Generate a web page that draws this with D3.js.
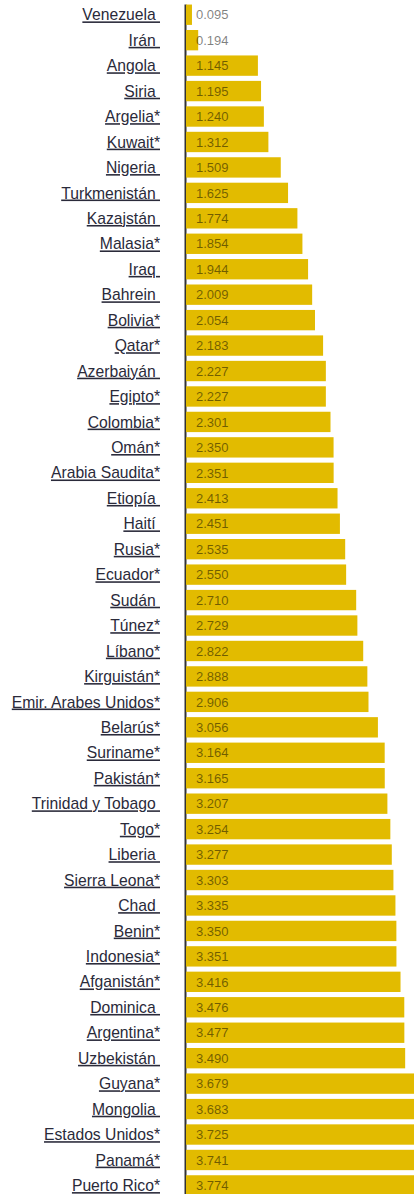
<!DOCTYPE html>
<html>
<head>
<meta charset="utf-8">
<script src="https://cdn.jsdelivr.net/npm/d3@7"></script>
<style>
  body { margin: 0; background: #fff; }
  svg { display: block; }
</style>
</head>
<body>
<div id="chart"></div>
<script>
// countries, top to bottom ("*" marks kept as in the source)
var countries = ["Venezuela", "Irán", "Angola", "Siria", "Argelia*", "Kuwait*", "Nigeria",
  "Turkmenistán", "Kazajstán", "Malasia*", "Iraq", "Bahrein", "Bolivia*", "Qatar*",
  "Azerbaiyán", "Egipto*", "Colombia*", "Omán*", "Arabia Saudita*", "Etiopía", "Haití",
  "Rusia*", "Ecuador*", "Sudán", "Túnez*", "Líbano*", "Kirguistán*", "Emir. Arabes Unidos*",
  "Belarús*", "Suriname*", "Pakistán*", "Trinidad y Tobago", "Togo*", "Liberia",
  "Sierra Leona*", "Chad", "Benin*", "Indonesia*", "Afganistán*", "Dominica", "Argentina*",
  "Uzbekistán", "Guyana*", "Mongolia", "Estados Unidos*", "Panamá*", "Puerto Rico*"];

var values = [0.095, 0.194, 1.145, 1.195, 1.240, 1.312, 1.509, 1.625, 1.774, 1.854, 1.944,
  2.009, 2.054, 2.183, 2.227, 2.227, 2.301, 2.350, 2.351, 2.413, 2.451, 2.535, 2.550,
  2.710, 2.729, 2.822, 2.888, 2.906, 3.056, 3.164, 3.165, 3.207, 3.254, 3.277, 3.303,
  3.335, 3.350, 3.351, 3.416, 3.476, 3.477, 3.490, 3.679, 3.683, 3.725, 3.741, 3.774];

var data = countries.map(function(c, i) { return { name: c, value: values[i] }; });

var width = 414, height = 1194;
var x0 = 186;
var step = 25.45;

var svg = d3.select('#chart').append('svg')
  .attr('width', width).attr('height', height);

var x = d3.scaleLinear().domain([0, 3.774]).range([x0, x0 + 237]);
var y = d3.scaleBand()
  .domain(countries)
  .range([2, 2 + step * countries.length])
  .paddingInner(0.2).paddingOuter(0.1);

// axis line behind the bars
svg.append('line')
  .attr('x1', x0 - 0.5).attr('x2', x0 - 0.5)
  .attr('y1', y(countries[0])).attr('y2', height)
  .attr('stroke', '#333').attr('stroke-width', 2);

svg.selectAll('rect.bar')
  .data(data)
  .enter().append('rect')
  .attr('class', 'bar')
  .attr('x', x0)
  .attr('y', function(d) { return y(d.name); })
  .attr('width', function(d) { return x(d.value) - x0; })
  .attr('height', y.bandwidth())
  .attr('fill', '#e2bb00');

// country labels, underlined like links
svg.selectAll('text.label')
  .data(data)
  .enter().append('text')
  .attr('class', 'label')
  .attr('x', 160)
  .attr('y', function(d) { return y(d.name) + y.bandwidth() / 2; })
  .attr('dy', '0.36em')
  .attr('text-anchor', 'end')
  .style('white-space', 'pre')
  .style('text-decoration', 'underline')
  .style('font-family', '"Liberation Sans", Arial, sans-serif')
  .style('font-size', '15.7px')
  .attr('fill', '#2a2a3a')
  .text(function(d) { return d.name.slice(-1) == '*' ? d.name : d.name + ' '; });

// values
svg.selectAll('text.val')
  .data(data)
  .enter().append('text')
  .attr('class', 'val')
  .attr('x', x0 + 10)
  .attr('y', function(d) { return y(d.name) + y.bandwidth() / 2; })
  .attr('dy', '0.36em')
  .style('font-family', '"Liberation Sans", Arial, sans-serif')
  .style('font-size', '13px')
  .attr('fill', '#000')
  .attr('fill-opacity', 0.5)
  .text(function(d) { return d3.format('.3f')(d.value); });
</script>
</body>
</html>
